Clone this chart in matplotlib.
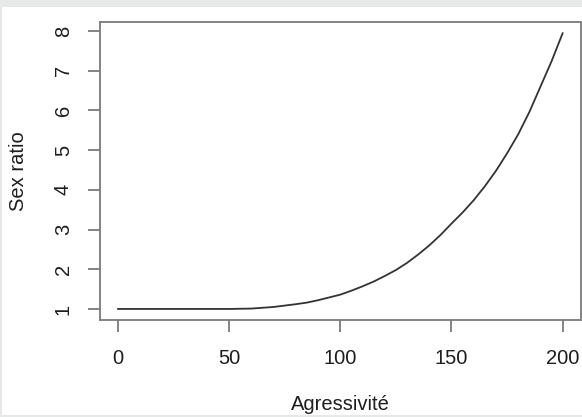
import matplotlib
matplotlib.use("Agg")
import matplotlib.pyplot as plt
from matplotlib.patches import Rectangle

# Data
agressivite = [0, 10, 20, 30, 40, 50, 60, 70, 80, 85, 90, 95, 100, 105,
               110, 115, 120, 125, 130, 135, 140, 145, 150, 155, 160, 165,
               170, 175, 180, 185, 190, 195, 200]
sex_ratio = [1.0, 1.0, 1.0, 1.0, 1.0, 1.0, 1.01, 1.05, 1.12, 1.16, 1.22, 1.29,
             1.36, 1.46, 1.57, 1.69, 1.83, 1.98, 2.16, 2.37, 2.6, 2.86, 3.15,
             3.43, 3.74, 4.09, 4.48, 4.92, 5.4, 5.96, 6.6, 7.24, 7.95]
x_ticks = [0, 50, 100, 150, 200]
y_ticks = [1, 2, 3, 4, 5, 6, 7, 8]

W, H = 582, 417
plt.rcParams['font.family'] = ['Liberation Sans', 'DejaVu Sans']
fig = plt.figure(figsize=(W / 100, H / 100), dpi=100)
fig.patch.set_facecolor('#e7e8e8')
fig.patches.append(Rectangle((2 / W, 2 / H), 580 / W, 408 / H,
                             transform=fig.transFigure, facecolor='white',
                             edgecolor='none', zorder=-5))

left, right, top, bottom = 100, 580.5, 22, 320
ax = fig.add_axes([left / W, 1 - bottom / H, (right - left) / W, (bottom - top) / H])
ax.set_zorder(2)
ax.set_facecolor('white')

ax.plot(agressivite, sex_ratio, color='#333333', lw=1.3, solid_capstyle='round',
        solid_joinstyle='round')

xmin, xmax = min(agressivite), max(agressivite)
ymin, ymax = min(sex_ratio), max(sex_ratio)
dx = (xmax - xmin) * 0.04
dy = (ymax - ymin) * 0.04
ax.set_xlim(xmin - dx, xmax + dx)
ax.set_ylim(ymin - dy, ymax + dy)

ax.set_xticks(x_ticks)
ax.set_yticks(y_ticks)
ax.set_xticklabels([str(v) for v in x_ticks])
ax.set_yticklabels([str(v) for v in y_ticks], rotation=90, va='center')

axis_col = '#7a7a7a'
text_col = '#1e1e1e'
for s in ax.spines.values():
    s.set_color(axis_col)
    s.set_linewidth(1.3)
ax.tick_params(axis='both', direction='out', length=8.6, width=1.3,
               color=axis_col, labelcolor=text_col, labelsize=14.5)
ax.tick_params(axis='x', pad=12)
ax.tick_params(axis='y', pad=11)

fig.text((left + right) / 2 / W, 1 - 405 / H, 'Agressivité', ha='center',
         va='center', fontsize=14.5, color=text_col)
fig.text(18 / W, 1 - 171 / H, 'Sex ratio', ha='center', va='center',
         rotation=90, fontsize=14.5, color=text_col)

fig.savefig('out.png', dpi=100, facecolor=fig.get_facecolor())
